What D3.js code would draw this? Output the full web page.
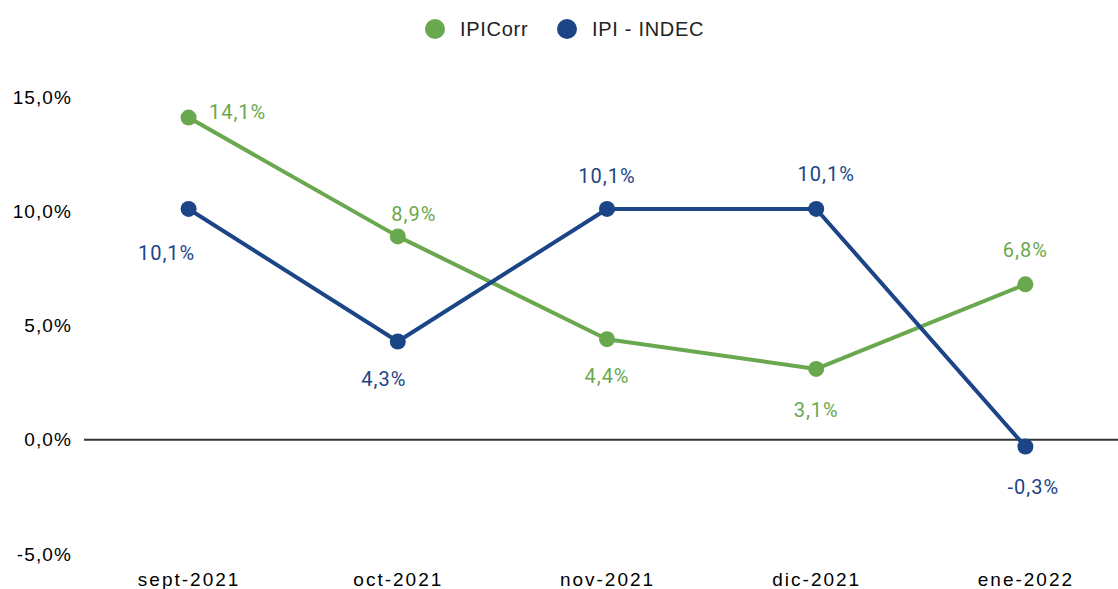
<!DOCTYPE html>
<html>
<head>
<meta charset="utf-8">
<script src="https://cdn.jsdelivr.net/npm/d3@7"></script>
<style>
  body { margin: 0; background: #fff; }
  .tick text { font-family: "Liberation Sans", Arial, sans-serif; }
</style>
</head>
<body>
<div id="vis"></div>
<script>
var W = 1118, H = 589;

var meses = ["sept-2021", "oct-2021", "nov-2021", "dic-2021", "ene-2022"];
var ipiCorr = [14.1, 8.9, 4.4, 3.1, 6.8];
var ipiIndec = [10.1, 4.3, 10.1, 10.1, -0.3];
var yTicks = [-5, 0, 5, 10, 15];

// donde va cada etiqueta respecto del punto
var posCorr = [[49, -6], [16, -22], [0, 37], [0, 41], [0, -34]];
var posIndec = [[-22, 44], [-14, 38], [0, -33], [10, -35], [8, 40]];

var verde = "#6aa84f", azul = "#1c4587";

var svg = d3.select("div#vis").append("svg")
  .attr("width", W)
  .attr("height", H);

var x = d3.scalePoint().domain(meses).range([84, 1130]).padding(0.5);
var y = d3.scaleLinear().domain([-5, 15]).range([554, 97]);

var fmt = function(v) { return d3.format(".1f")(v).replace(".", ",").replace("−", "-") + "%"; };

// eje y
var ejeY = svg.append("g")
  .attr("transform", "translate(72,0)")
  .call(d3.axisLeft(y).tickValues(yTicks).tickSize(0).tickPadding(0).tickFormat(fmt));
ejeY.select(".domain").remove();
ejeY.selectAll("text").attr("font-size", 19).attr("fill", "#000")
  .style("letter-spacing", "1.1px");

// linea del cero
svg.append("line")
  .attr("x1", 84).attr("x2", W)
  .attr("y1", y(0)).attr("y2", y(0))
  .attr("stroke", "#333").attr("stroke-width", 2);

// eje x
var ejeX = svg.append("g")
  .attr("transform", "translate(0,572)")
  .call(d3.axisBottom(x).tickSize(0).tickPadding(0));
ejeX.select(".domain").remove();
ejeX.selectAll("text").attr("font-size", 19).attr("fill", "#000").attr("dy", "0.71em")
  .style("letter-spacing", "2px");

var series = [
  {nombre: "IPICorr", valores: ipiCorr, color: verde, pos: posCorr},
  {nombre: "IPI - INDEC", valores: ipiIndec, color: azul, pos: posIndec}
];

var linea = d3.line()
  .x(function(d, i) { return x(meses[i]); })
  .y(function(d) { return y(d); });

series.forEach(function(s) {
  svg.append("path")
    .attr("d", linea(s.valores))
    .attr("fill", "none")
    .attr("stroke", s.color)
    .attr("stroke-width", 4)
    .attr("stroke-linejoin", "round");

  svg.selectAll(null).data(s.valores).enter().append("circle")
    .attr("cx", function(d, i) { return x(meses[i]); })
    .attr("cy", function(d) { return y(d); })
    .attr("r", 8)
    .attr("fill", s.color);

  svg.selectAll(null).data(s.valores).enter().append("text")
    .attr("x", function(d, i) { return x(meses[i]) + s.pos[i][0]; })
    .attr("y", function(d, i) { return y(d) + s.pos[i][1]; })
    .attr("dy", "0.35em")
    .attr("text-anchor", "middle")
    .attr("font-family", "Roboto, sans-serif")
    .attr("font-size", 20)
    .style("letter-spacing", "1px")
    .attr("fill", s.color)
    .text(fmt);
});

// leyenda
var leyenda = [{x: 435, s: series[0]}, {x: 567, s: series[1]}];
leyenda.forEach(function(l) {
  svg.append("circle").attr("cx", l.x).attr("cy", 29).attr("r", 10).attr("fill", l.s.color);
  svg.append("text")
    .attr("x", l.x + 25).attr("y", 29).attr("dy", "0.35em")
    .attr("font-family", "Liberation Sans, Arial, sans-serif")
    .attr("font-size", 20)
    .style("letter-spacing", "0.7px")
    .attr("fill", "#222")
    .text(l.s.nombre);
});
</script>
</body>
</html>
